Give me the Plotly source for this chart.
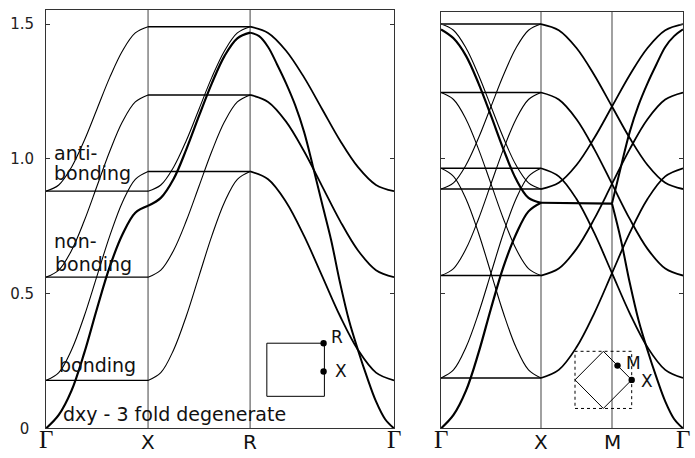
import plotly.graph_objects as go

# ---------------- data ----------------
# k-path node positions (path length units) and labels
L_KPTS = [0.0, 1.0, 2.0, 3.41]
L_KLAB = ["Γ", "X", "R", "Γ"]
R_KPTS = [0.0, 1.0, 1.71, 2.42]
R_KLAB = ["Γ", "X", "M", "Γ"]

Y_TICKS = [0, 0.5, 1.0, 1.5]
Y_TICKTEXT = ["0\u00a0", "0.5", "1.0", "1.5"]

# fractional positions along a segment where values were read
T9 = [0, 0.125, 0.25, 0.375, 0.5, 0.625, 0.75, 0.875, 1.0]
T17 = [0, 0.0625, 0.125, 0.1875, 0.25, 0.3125, 0.375, 0.4375, 0.5,
       0.5625, 0.625, 0.6875, 0.75, 0.8125, 0.875, 0.9375, 1.0]

# ---- left panel (Γ-X-R-Γ) ----
L_FLAT_GX = [0.178, 0.561, 0.88]
L_FLAT_XR = [0.953, 1.237, 1.49]
L_RISE_B = [0.178, 0.207, 0.291, 0.417, 0.566, 0.714, 0.840, 0.924, 0.953]
L_RISE_NB = [0.561, 0.587, 0.660, 0.770, 0.899, 1.028, 1.138, 1.211, 1.237]
L_RISE_AB = [0.880, 0.903, 0.969, 1.068, 1.185, 1.302, 1.401, 1.467, 1.490]
L_DXY_GX = [0.0, 0.05, 0.14, 0.28, 0.445, 0.60, 0.72, 0.80, 0.826]
L_DXY_XR = [0.826, 0.855, 0.925, 1.035, 1.16, 1.28, 1.382, 1.447, 1.468]
L_FALL_B_RG = [0.953, 0.924, 0.840, 0.714, 0.566, 0.417, 0.291, 0.207, 0.178]
L_FALL_NB_RG = [1.237, 1.211, 1.138, 1.028, 0.899, 0.770, 0.660, 0.587, 0.561]
L_FALL_AB_RG = [1.490, 1.467, 1.401, 1.302, 1.185, 1.068, 0.969, 0.903, 0.880]
L_DXY_RG = [1.468, 1.455, 1.415, 1.35, 1.28, 1.20, 1.10, 0.97, 0.834,
            0.70, 0.54, 0.40, 0.29, 0.19, 0.10, 0.035, 0.0]

# ---- right panel (Γ-X-M-Γ) ----
R_FLAT_GX = [0.187, 0.567, 0.888, 0.965, 1.246, 1.50]
R_RISE_B = [0.187, 0.217, 0.301, 0.427, 0.576, 0.725, 0.851, 0.935, 0.965]
R_RISE_NB = [0.567, 0.593, 0.666, 0.777, 0.907, 1.036, 1.147, 1.220, 1.246]
R_RISE_AB = [0.888, 0.911, 0.977, 1.077, 1.194, 1.311, 1.411, 1.477, 1.500]
R_FALL_B = [0.965, 0.935, 0.851, 0.725, 0.576, 0.427, 0.301, 0.217, 0.187]
R_FALL_NB = [1.246, 1.220, 1.147, 1.036, 0.907, 0.777, 0.666, 0.593, 0.567]
R_FALL_AB = [1.500, 1.477, 1.411, 1.311, 1.194, 1.077, 0.977, 0.911, 0.888]
R_DXY_GX_RISE = [0.0, 0.05, 0.14, 0.28, 0.445, 0.60, 0.72, 0.805, 0.837]
R_DXY_GX_FALL = [1.48, 1.447, 1.382, 1.28, 1.16, 1.035, 0.925, 0.855, 0.837]
R_DXY_XM = [0.837, 0.834]
R_DXY_MG_FALL = [0.834, 0.70, 0.54, 0.40, 0.29, 0.19, 0.10, 0.035, 0.0]
R_DXY_MG_RISE = [0.834, 0.97, 1.10, 1.20, 1.28, 1.35, 1.415, 1.455, 1.48]

# ---------------- figure ----------------
fig = go.Figure()
INK = "#000000"


def curve(xa, ya, x0, x1, grid, vals, width, smooth=True):
    xs = [x0 + (x1 - x0) * g for g in grid]
    fig.add_trace(go.Scatter(
        x=xs, y=vals, mode="lines", xaxis=xa, yaxis=ya,
        line=dict(color=INK, width=width, shape="spline" if smooth else "linear"),
        hoverinfo="skip", showlegend=False))


def flat(xa, ya, x0, x1, v, width):
    curve(xa, ya, x0, x1, [0, 1], [v, v], width, smooth=False)


G, X, R, G2 = L_KPTS
# left Γ-X
for v in L_FLAT_GX:
    flat("x", "y", G, X, v, 1.2)
for arr in (L_RISE_B, L_RISE_NB, L_RISE_AB):
    curve("x", "y", G, X, T9, arr, 1.1)
curve("x", "y", G, X, T9, L_DXY_GX, 2.2)
# left X-R
for v in L_FLAT_XR:
    flat("x", "y", X, R, v, 1.5)
for arr in (L_RISE_B, L_RISE_NB, L_RISE_AB):
    curve("x", "y", X, R, T9, arr, 1.1)
curve("x", "y", X, R, T9, L_DXY_XR, 2.2)
# left R-Γ
for arr in (L_FALL_B_RG, L_FALL_NB_RG, L_FALL_AB_RG):
    curve("x", "y", R, G2, T9, arr, 1.8)
curve("x", "y", R, G2, T17, L_DXY_RG, 2.0)

g, xk, m, g2 = R_KPTS
# right Γ-X
for v in R_FLAT_GX:
    flat("x2", "y2", g, xk, v, 1.5)
for arr in (R_RISE_B, R_RISE_NB, R_RISE_AB, R_FALL_B, R_FALL_NB, R_FALL_AB):
    curve("x2", "y2", g, xk, T9, arr, 1.1)
curve("x2", "y2", g, xk, T9, R_DXY_GX_RISE, 2.2)
curve("x2", "y2", g, xk, T9, R_DXY_GX_FALL, 2.2)
# right X-M-Γ
for arr in (R_RISE_B, R_RISE_NB, R_RISE_AB, R_FALL_B, R_FALL_NB, R_FALL_AB):
    curve("x2", "y2", xk, g2, T9, arr, 1.8)
curve("x2", "y2", xk, m, [0, 1], R_DXY_XM, 2.2, smooth=False)
curve("x2", "y2", m, g2, T9, R_DXY_MG_FALL, 2.0)
curve("x2", "y2", m, g2, T9, R_DXY_MG_RISE, 2.0)

W, H = 695, 458
left_dom = [46 / W, 394 / W]
right_dom = [441 / W, 683 / W]
ybot = 21 / H
ltop = (H - 10.3) / H
rtop = (H - 12.3) / H

frame = "#333333"
yax = dict(ticks="inside", ticklen=4, tickcolor=frame, tickvals=Y_TICKS,
           showline=True, linecolor=frame, linewidth=1, mirror="ticks",
           showgrid=False, zeroline=False)
xax = dict(showline=True, linecolor=frame, linewidth=1, mirror=True,
           showgrid=False, zeroline=False, ticks="", showticklabels=False)

fig.update_layout(
    width=W, height=H, margin=dict(l=0, r=0, t=0, b=0),
    paper_bgcolor="white", plot_bgcolor="white",
    xaxis=dict(domain=left_dom, range=[L_KPTS[0], L_KPTS[-1]], **xax),
    xaxis2=dict(domain=right_dom, range=[R_KPTS[0], R_KPTS[-1]], anchor="y2", **xax),
    yaxis=dict(domain=[ybot, ltop], range=[0, (437 - 10.3) / 275], anchor="x",
               ticktext=Y_TICKTEXT, ticklabelstandoff=8,
               tickfont=dict(family="DejaVu Sans", size=15, color="#222"), **yax),
    yaxis2=dict(domain=[ybot, rtop], range=[0, (437 - 12.3) / 275], anchor="x2",
                showticklabels=False, **yax),
)

# vertical symmetry-point lines
shapes = []
for xa, ya, pts in (("x", "y", L_KPTS[1:3]), ("x2", "y2", R_KPTS[1:3])):
    for p in pts:
        shapes.append(dict(type="line", xref=xa, yref=ya + " domain", x0=p, x1=p,
                           y0=0, y1=1, line=dict(color="#6e6e6e", width=1.3), layer="below"))

# left inset (square with R and X points)
shapes.append(dict(type="rect", xref="x", yref="y", x0=2.164, x1=2.728, y0=0.119, y1=0.316,
                   line=dict(color=INK, width=1)))
for (px, py) in ((2.72, 0.316), (2.72, 0.211)):
    shapes.append(dict(type="circle", xref="x", yref="y", xsizemode="pixel", ysizemode="pixel",
                       xanchor=px, yanchor=py, x0=-3.2, x1=3.2, y0=-3.2, y1=3.2,
                       fillcolor=INK, line=dict(color=INK, width=0)))
# right inset (dashed square + rotated square, M and X points)
x0i, x1i, y0i, y1i = 1.34, 1.907, 0.074, 0.286
xm, ym = (x0i + x1i) / 2, (y0i + y1i) / 2
shapes.append(dict(type="rect", xref="x2", yref="y2", x0=x0i, x1=x1i, y0=y0i, y1=y1i,
                   line=dict(color=INK, width=1, dash="dot")))
shapes.append(dict(type="path", xref="x2", yref="y2",
                   path=f"M {x0i},{ym} L {xm},{y1i} L {x1i},{ym} L {xm},{y0i} Z",
                   line=dict(color=INK, width=1)))
for (px, py) in (((xm + x1i) / 2, (y1i + ym) / 2), (x1i, ym)):
    shapes.append(dict(type="circle", xref="x2", yref="y2", xsizemode="pixel", ysizemode="pixel",
                       xanchor=px, yanchor=py, x0=-3.2, x1=3.2, y0=-3.2, y1=3.2,
                       fillcolor=INK, line=dict(color=INK, width=0)))
fig.update_layout(shapes=shapes)

ann = []
SANS = "DejaVu Sans"
SERIF = "Liberation Serif"
# k-point labels
for xa, ya, pts, labs in (("x", "y", L_KPTS, L_KLAB), ("x2", "y2", R_KPTS, R_KLAB)):
    for p, lab in zip(pts, labs):
        if lab == "Γ":
            f = dict(family=SERIF, size=25, color="#111")
            ys = 4
        else:
            f = dict(family=SANS, size=20, color="#111")
            ys = 0
        ann.append(dict(x=p, y=0, xref=xa, yref=ya, text=lab, showarrow=False,
                        xanchor="center", yanchor="top", yshift=ys, font=f))

# text labels in the left panel
for txt, yy, xx in (("anti-", 1.020, 0.059), ("bonding", 0.948, 0.062),
                    ("non-", 0.694, 0.060), ("bonding", 0.609, 0.070),
                    ("bonding", 0.235, 0.108), ("dxy - 3 fold degenerate", 0.053, 0.150)):
    ann.append(dict(x=xx, y=yy, xref="x", yref="y", text=txt, showarrow=False,
                    xanchor="left", yanchor="middle",
                    font=dict(family=SANS, size=19, color="#111")))
# inset labels
for txt, xa, ya, xx, yy in (("R", "x", "y", 2.848, 0.340), ("X", "x", "y", 2.892, 0.213),
                            ("M", "x2", "y2", 1.923, 0.2436), ("X", "x2", "y2", 2.057, 0.1745)):
    ann.append(dict(x=xx, y=yy, xref=xa, yref=ya, text=txt, showarrow=False,
                    xanchor="center", yanchor="middle",
                    font=dict(family=SANS, size=17, color="#111")))
fig.update_layout(annotations=ann)

fig.write_html("out.html", config={"displayModeBar": False, "staticPlot": True},
               post_script="document.body.style.margin='0px';document.body.style.overflow='hidden';")
